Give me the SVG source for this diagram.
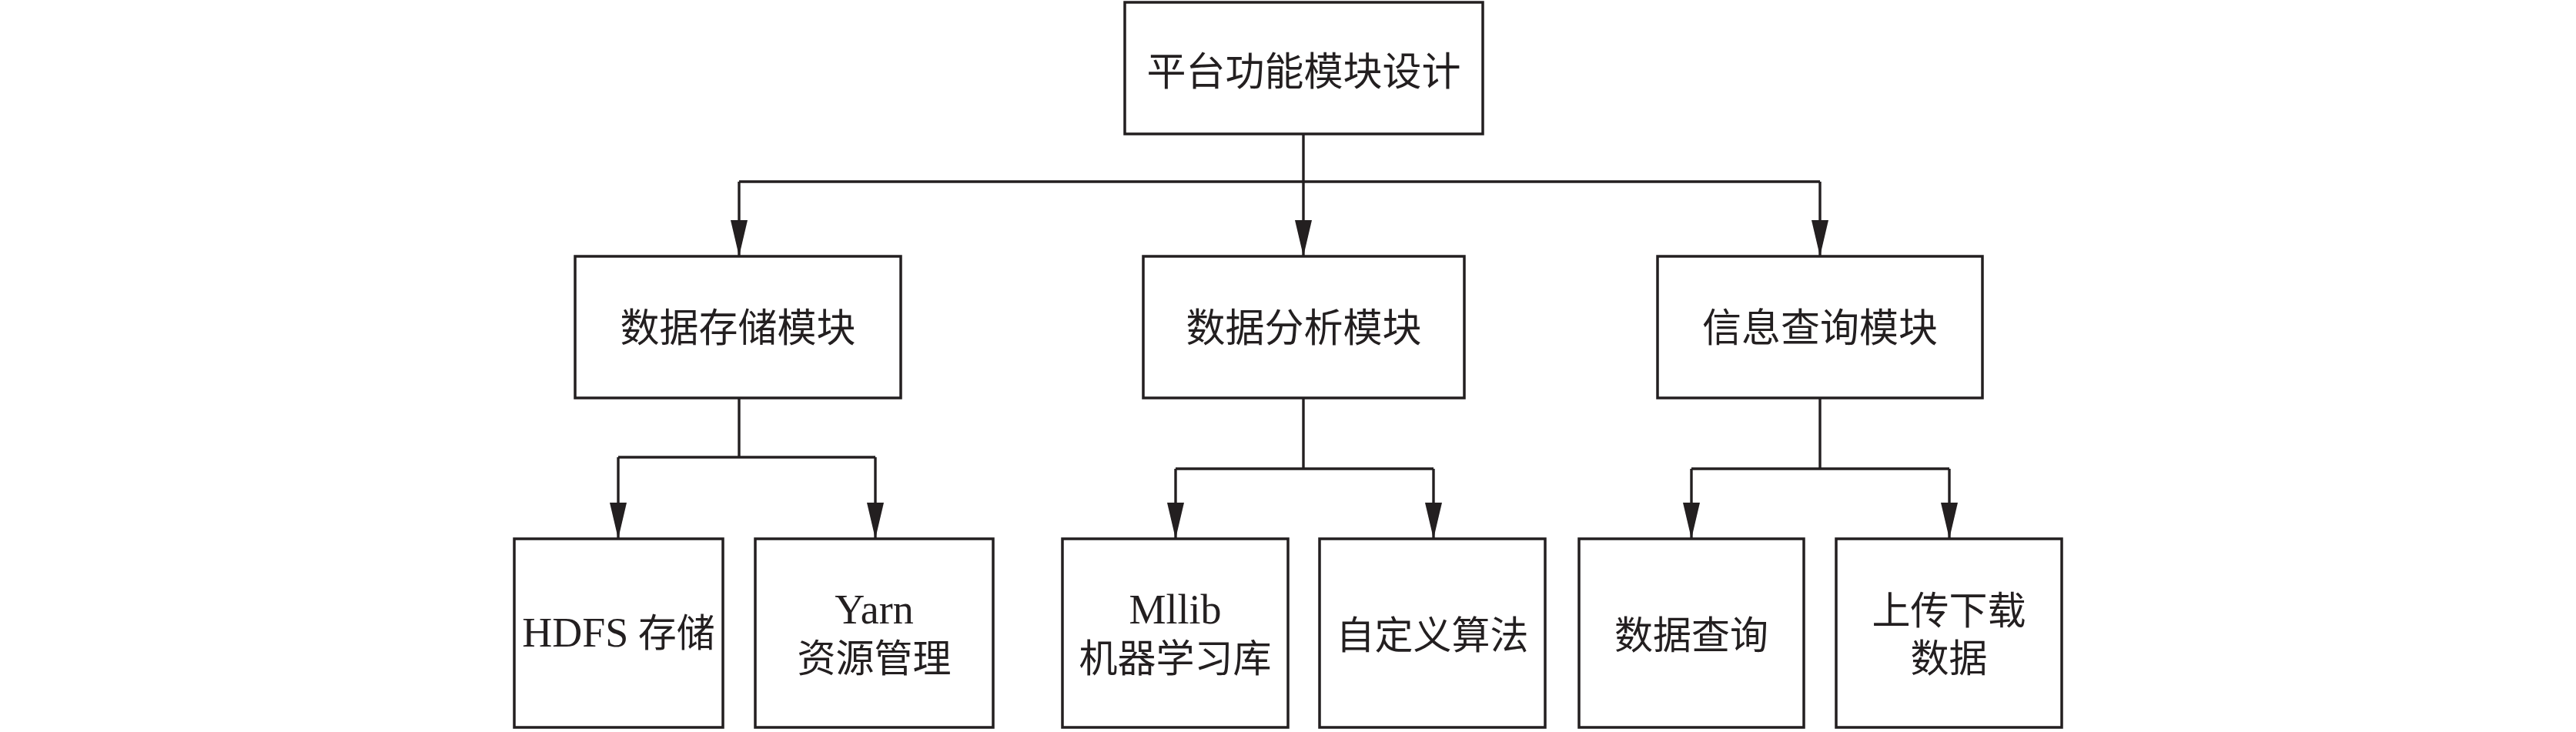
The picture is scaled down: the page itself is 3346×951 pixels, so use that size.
<svg xmlns="http://www.w3.org/2000/svg" width="3346" height="951" viewBox="0 0 3346 951">
  <style>
    .box { fill: #ffffff; stroke: #231f20; stroke-width: 3.5; }
    .conn { fill: none; stroke: #231f20; stroke-width: 3.4; }
    .t { font-family: "Liberation Serif", "Noto Sans CJK SC", serif; font-size: 50px; fill: #231f20; text-anchor: middle; }
    .tl { font-size: 51px; }
    .lat { font-size: 54px; }
  </style>
  <defs>
    <marker id="arrow" viewBox="0 0 47 22" refX="47" refY="11" markerWidth="47" markerHeight="22" markerUnits="userSpaceOnUse" orient="auto">
      <path d="M0,0 L47,11 L0,22 Z" fill="#231f20"/>
    </marker>
  </defs>
  <rect width="3346" height="951" fill="#ffffff"/>

  <g id="connectors">
    <path class="conn" d="M1693,174 V236"/>
    <path class="conn" d="M960,236 H2364"/>
    <path class="conn" d="M960,236 V333" marker-end="url(#arrow)"/>
    <path class="conn" d="M1693,236 V333" marker-end="url(#arrow)"/>
    <path class="conn" d="M2364,236 V333" marker-end="url(#arrow)"/>

    <path class="conn" d="M960,517 V594"/>
    <path class="conn" d="M803,594 H1137"/>
    <path class="conn" d="M803,594 V700" marker-end="url(#arrow)"/>
    <path class="conn" d="M1137,594 V700" marker-end="url(#arrow)"/>

    <path class="conn" d="M1693,517 V609"/>
    <path class="conn" d="M1527,609 H1862"/>
    <path class="conn" d="M1527,609 V700" marker-end="url(#arrow)"/>
    <path class="conn" d="M1862,609 V700" marker-end="url(#arrow)"/>

    <path class="conn" d="M2364,517 V609"/>
    <path class="conn" d="M2197,609 H2532"/>
    <path class="conn" d="M2197,609 V700" marker-end="url(#arrow)"/>
    <path class="conn" d="M2532,609 V700" marker-end="url(#arrow)"/>
  </g>

  <g id="node-root">
    <rect class="box" x="1461" y="3" width="465" height="171"/>
    <text class="t tl" x="1693.5" y="111">平台功能模块设计</text>
  </g>

  <g id="node-storage">
    <rect class="box" x="747" y="333" width="423" height="184"/>
    <text class="t tl" x="958.5" y="444">数据存储模块</text>
  </g>
  <g id="node-analysis">
    <rect class="box" x="1485" y="333" width="417" height="184"/>
    <text class="t tl" x="1693.5" y="444">数据分析模块</text>
  </g>
  <g id="node-query">
    <rect class="box" x="2153" y="333" width="422" height="184"/>
    <text class="t tl" x="2364" y="444">信息查询模块</text>
  </g>

  <g id="node-hdfs">
    <rect class="box" x="668" y="700" width="271" height="245"/>
    <text class="t" x="803.5" y="840"><tspan class="lat">HDFS</tspan> 存储</text>
  </g>
  <g id="node-yarn">
    <rect class="box" x="981" y="700" width="309" height="245"/>
    <text class="t lat" x="1135.5" y="810">Yarn</text>
    <text class="t" x="1135.5" y="873">资源管理</text>
  </g>
  <g id="node-mllib">
    <rect class="box" x="1380" y="700" width="293" height="245"/>
    <text class="t lat" x="1526.5" y="810">Mllib</text>
    <text class="t" x="1526.5" y="873">机器学习库</text>
  </g>
  <g id="node-custom">
    <rect class="box" x="1714" y="700" width="293" height="245"/>
    <text class="t" x="1860.5" y="843">自定义算法</text>
  </g>
  <g id="node-dataquery">
    <rect class="box" x="2051" y="700" width="292" height="245"/>
    <text class="t" x="2197" y="843">数据查询</text>
  </g>
  <g id="node-updown">
    <rect class="box" x="2385" y="700" width="293" height="245"/>
    <text class="t" x="2531.5" y="811">上传下载</text>
    <text class="t" x="2531.5" y="873">数据</text>
  </g>
</svg>
